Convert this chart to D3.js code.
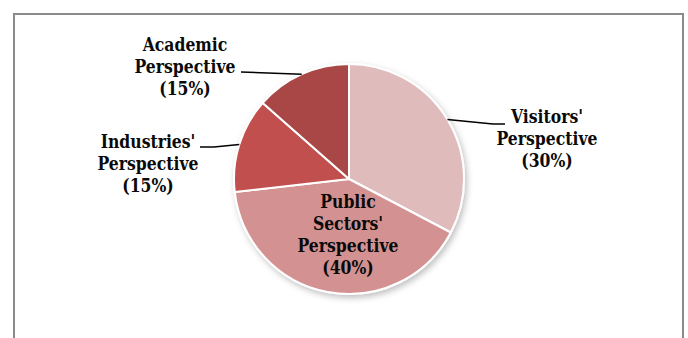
<!DOCTYPE html>
<html>
<head>
<meta charset="utf-8">
<script src="https://cdn.jsdelivr.net/npm/d3@7"></script>
<style>
  html, body { margin: 0; padding: 0; background: #fff; }
  svg { display: block; }
  .lbl { font-family: "DejaVu Serif Condensed", "DejaVu Serif", serif; font-weight: bold; font-size: 18.5px; fill: #0a0a0a; }
</style>
</head>
<body>
<svg id="chart" width="688" height="338"></svg>
<script>
// ---- data ----
const categories = ["Visitors'", "Public Sectors'", "Industries'", "Academic"];
const values = [32.7, 40.5, 13.3, 13.5];          // slice sizes as drawn
const pctLabels = ["30%", "40%", "15%", "15%"];    // printed labels
const colors = ["#E0BBBB", "#D39291", "#C0504D", "#A84644"];

// ---- layout ----
const cx = 349, cy = 179, R = 115;
const svg = d3.select("#chart");

// frame
svg.append("rect")
  .attr("x", 14).attr("y", 14).attr("width", 669).attr("height", 340)
  .attr("fill", "#fff").attr("stroke", "#8a8a8a").attr("stroke-width", 2);

const defs = svg.append("defs");
const f = defs.append("filter").attr("id", "sh").attr("x", "-20%").attr("y", "-20%").attr("width", "140%").attr("height", "140%");
f.append("feDropShadow").attr("dx", 2).attr("dy", 3).attr("stdDeviation", 3)
  .attr("flood-color", "#000").attr("flood-opacity", 0.25);

const pie = d3.pie().sort(null).value(d => d).startAngle(0).endAngle(2 * Math.PI);
const arcs = pie(values);
const arc = d3.arc().innerRadius(0).outerRadius(R);

const g = svg.append("g").attr("transform", `translate(${cx},${cy})`);
g.append("g").attr("filter", "url(#sh)")
  .selectAll("path").data(arcs).enter().append("path")
  .attr("d", arc)
  .attr("fill", (d, i) => colors[i])
  .attr("stroke", "#fff").attr("stroke-width", 2).attr("stroke-linejoin", "round");

// label text lines
const lines = categories.map((c, i) => {
  if (i === 1) return ["Public", "Sectors'", "Perspective", "(" + pctLabels[i] + ")"];
  return [c, "Perspective", "(" + pctLabels[i] + ")"];
});
// label anchor (center x, first baseline) and leader end point
const labelPos = [
  { x: 547, y: 123, lx: 505, ly: 124, bx: 493 },
  { x: 348, y: 208 },
  { x: 148, y: 148, lx: 200, ly: 147, bx: 214 },
  { x: 185, y: 51,  lx: 241, ly: 72,  bx: 241 }
];

// measure horizontal scaling so "Perspective" is ~100px wide
const probe = svg.append("text").attr("class", "lbl").text("Perspective");
const pw = probe.node().getComputedTextLength();
probe.remove();
const sx = 101 / pw;

arcs.forEach((a, i) => {
  const p = labelPos[i];
  const tg = svg.append("g").attr("transform", `translate(${p.x},${p.y}) scale(${sx},1)`);
  lines[i].forEach((t, k) => {
    tg.append("text").attr("class", "lbl")
      .attr("x", 0).attr("y", k * 22)
      .attr("text-anchor", "middle").text(t);
  });
  if (p.lx !== undefined) {
    const mid = (a.startAngle + a.endAngle) / 2;
    const ex = cx + R * Math.sin(mid), ey = cy - R * Math.cos(mid);
    svg.append("polyline")
      .attr("points", `${ex},${ey} ${p.bx},${p.ly} ${p.lx},${p.ly}`)
      .attr("fill", "none").attr("stroke", "#000").attr("stroke-width", 1.6);
  }
});
</script>
</body>
</html>
